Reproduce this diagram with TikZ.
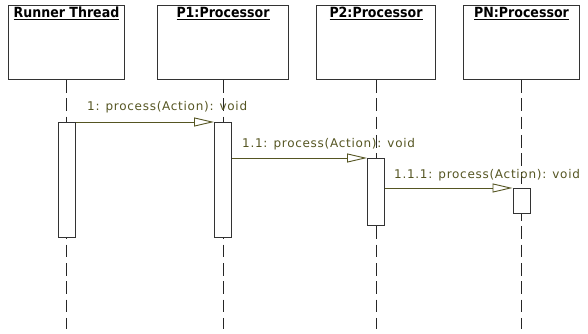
\documentclass[tikz,border=0pt]{standalone}
\usepackage{fontspec}
\setmainfont{DejaVu Sans}
\newfontfamily\headfont{DejaVu Sans Condensed}[BoldFont={* Bold}]
\newfontfamily\lblfont{DejaVu Sans}[LetterSpace=6]
\usetikzlibrary{arrows.meta}
\definecolor{olive}{RGB}{85,85,34}
\definecolor{linegray}{RGB}{51,51,51}
\begin{document}
\begin{tikzpicture}[x=1pt,y=-1pt,
  headbox/.style={draw=linegray, line width=1pt, rectangle, minimum height=74pt, inner sep=0pt, anchor=north west},
  headtxt/.style={anchor=base, font=\headfont\bfseries\fontsize{14}{14}\selectfont, inner sep=0pt},
  lifeline/.style={draw=black!85, line width=1pt, dash pattern=on 12.7pt off 5.6pt},
  actbox/.style={draw=linegray, fill=white, line width=1pt, rectangle, minimum width=17pt, inner sep=0pt, anchor=north},
  msg/.style={draw=olive, line width=0.9pt, -{Triangle[open, length=20pt, width=9pt, line width=0.9pt]}},
  lbl/.style={anchor=west, text=olive, font=\lblfont\fontsize{12}{12}\selectfont, inner sep=0pt}
]
\useasboundingbox (0,0) rectangle (588,334);
% heads
\node[headbox, minimum width=116pt] (hR) at (8,5) {};
\node[headbox, minimum width=131pt] (h1) at (157,5) {};
\node[headbox, minimum width=119pt] (h2) at (316,5) {};
\node[headbox, minimum width=116pt] (hN) at (463,5) {};
\node[headtxt] (tR) at ([yshift=-13pt]hR.north) {\underline{Runner Thread}};
\node[headtxt] (t1) at ([yshift=-13pt]h1.north) {\underline{P1:Processor}};
\node[headtxt] (t2) at ([yshift=-13pt]h2.north) {\underline{P2:Processor}};
\node[headtxt] (tN) at ([yshift=-13pt]hN.north) {\underline{PN:Processor}};
% lifeline ends
\coordinate (eR) at (hR.south |- 0,329);
\coordinate (e1) at (h1.south |- 0,329);
\coordinate (e2) at (h2.south |- 0,329);
\coordinate (eN) at (hN.south |- 0,329);
\draw[lifeline] (hR.south) -- (eR);
\draw[lifeline] (h1.south) -- (e1);
\draw[lifeline] (h2.south) -- (e2);
\draw[lifeline] (hN.south) -- (eN);
% activations
\node[actbox, minimum height=115pt] (aR) at (hR.south |- 0,122) {};
\node[actbox, minimum height=115pt] (a1) at (h1.south |- 0,122) {};
\node[actbox, minimum height=67pt] (a2) at (h2.south |- 0,158) {};
\node[actbox, minimum height=25pt] (aN) at (hN.south |- 0,188) {};
% messages
\draw[msg] (aR.north east) -- (a1.north west);
\draw[msg] (a1.east |- a2.north) -- (a2.north west);
\draw[msg] (a2.east |- aN.north) -- (aN.north west);
\node[lbl] (l1) at (87,107) {1: process(Action): void};
\node[lbl] (l2) at (242,144) {1.1: process(Action): void};
\node[lbl] (l3) at (394,175) {1.1.1: process(Action): void};
\end{tikzpicture}
\end{document}
